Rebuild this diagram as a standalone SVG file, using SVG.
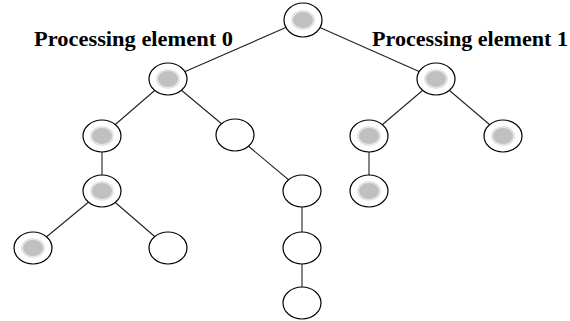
<svg xmlns="http://www.w3.org/2000/svg" width="570" height="321" viewBox="0 0 570 321">
<style>
.edge{stroke:#222;stroke-width:1.1;fill:none}
.node{fill:#fff;stroke:#000;stroke-width:1.2}
.core{fill:#c0c0c0;stroke:#e4e4e4;stroke-width:2}
.lbl{font-family:"Liberation Serif","Times New Roman",serif;font-weight:bold;font-size:20px;fill:#000}
</style>
<rect width="570" height="321" fill="#fff"/>
<g id="connectors">
<line class="edge" x1="303" y1="20" x2="168" y2="79"/>
<line class="edge" x1="303" y1="20" x2="436" y2="79"/>
<line class="edge" x1="168" y1="79" x2="102" y2="136"/>
<line class="edge" x1="168" y1="79" x2="235" y2="135"/>
<line class="edge" x1="102" y1="136" x2="102" y2="191"/>
<line class="edge" x1="102" y1="191" x2="33" y2="248"/>
<line class="edge" x1="102" y1="191" x2="168" y2="248"/>
<line class="edge" x1="235" y1="135" x2="302" y2="191"/>
<line class="edge" x1="302" y1="191" x2="302" y2="248"/>
<line class="edge" x1="302" y1="248" x2="302" y2="303"/>
<line class="edge" x1="436" y1="79" x2="369" y2="136"/>
<line class="edge" x1="436" y1="79" x2="503" y2="136"/>
<line class="edge" x1="369" y1="136" x2="369" y2="191"/>
</g>
<g id="root"><ellipse class="node" cx="303" cy="20" rx="19" ry="17"/><ellipse class="core" cx="303" cy="20" rx="11" ry="9"/></g>
<g id="n1"><ellipse class="node" cx="168" cy="79" rx="19" ry="16"/><ellipse class="core" cx="168" cy="79" rx="11" ry="9"/></g>
<g id="n2"><ellipse class="node" cx="436" cy="79" rx="19" ry="16"/><ellipse class="core" cx="436" cy="79" rx="11" ry="9"/></g>
<g id="n3"><ellipse class="node" cx="102" cy="136" rx="19" ry="16"/><ellipse class="core" cx="102" cy="136" rx="11" ry="9"/></g>
<g id="n4"><ellipse class="node" cx="235" cy="135" rx="19" ry="16"/></g>
<g id="n5"><ellipse class="node" cx="102" cy="191" rx="19" ry="16"/><ellipse class="core" cx="102" cy="191" rx="11" ry="9"/></g>
<g id="n6"><ellipse class="node" cx="33" cy="248" rx="19" ry="16"/><ellipse class="core" cx="33" cy="248" rx="11" ry="9"/></g>
<g id="n7"><ellipse class="node" cx="168" cy="248" rx="19" ry="16"/></g>
<g id="n8"><ellipse class="node" cx="302" cy="191" rx="19" ry="16"/></g>
<g id="n9"><ellipse class="node" cx="302" cy="248" rx="19" ry="16"/></g>
<g id="n10"><ellipse class="node" cx="302" cy="303" rx="19" ry="16"/></g>
<g id="n11"><ellipse class="node" cx="369" cy="136" rx="19" ry="16"/><ellipse class="core" cx="369" cy="136" rx="11" ry="9"/></g>
<g id="n12"><ellipse class="node" cx="503" cy="136" rx="19" ry="16"/><ellipse class="core" cx="503" cy="136" rx="11" ry="9"/></g>
<g id="n13"><ellipse class="node" cx="369" cy="191" rx="19" ry="16"/><ellipse class="core" cx="369" cy="191" rx="11" ry="9"/></g>
<g id="labels">
<text class="lbl" x="34" y="46" textLength="199" lengthAdjust="spacingAndGlyphs">Processing element 0</text>
<text class="lbl" x="372" y="46" textLength="196" lengthAdjust="spacingAndGlyphs">Processing element 1</text>
</g>
</svg>
